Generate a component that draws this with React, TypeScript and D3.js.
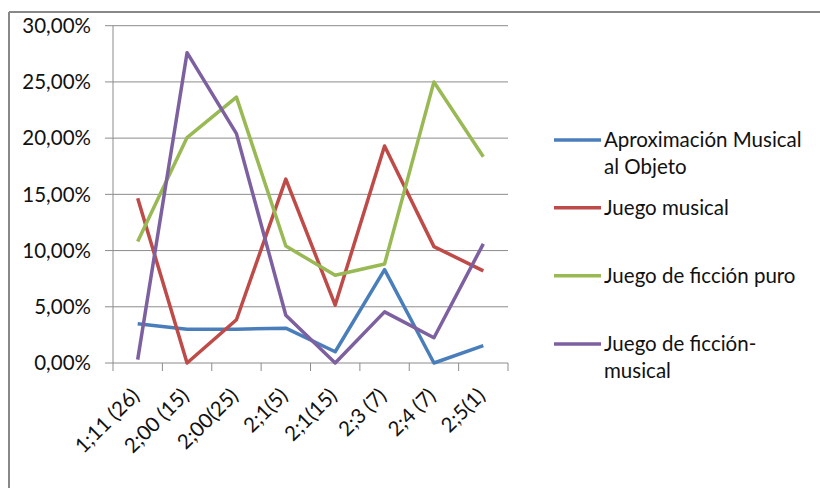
import React from "react";
import * as d3 from "d3";

// Age groups (age;months with sample size) on the x axis
const categories = ["1;11 (26)", "2;00 (15)", "2;00(25)", "2;1(5)", "2;1(15)", "2;3 (7)", "2;4 (7)", "2;5(1)"];

// Share of each play type per age group, in percent
const aproximacionMusical = [3.5, 3.0, 3.0, 3.1, 1.0, 8.3, 0.0, 1.55];
const juegoMusical = [14.65, 0.0, 3.85, 16.35, 5.15, 19.3, 10.35, 8.2];
const juegoFiccionPuro = [10.8, 20.05, 23.65, 10.4, 7.8, 8.8, 25.0, 18.35];
const juegoFiccionMusical = [0.3, 27.6, 20.4, 4.25, 0.0, 4.55, 2.25, 10.6];

const seriesNames = ["Aproximación Musical al Objeto", "Juego musical", "Juego de ficción puro", "Juego de ficción-musical"];
const legendLines = [["Aproximación Musical", "al Objeto"], ["Juego musical"], ["Juego de ficción puro"], ["Juego de ficción-", "musical"]];
const seriesColors = ["#4A7EBB", "#BE4B48", "#98B954", "#7D60A0"];
const yTicks = [0, 5, 10, 15, 20, 25, 30];

const W = 820;
const H = 488;
const FONT = "Lato, 'Open Sans', sans-serif";

export default function App() {
  const plot = { left: 113, right: 508, top: 25.7, bottom: 363 };
  const x = d3.scaleBand<string>().domain(categories).range([plot.left, plot.right]);
  const y = d3.scaleLinear().domain([0, 30]).range([plot.bottom, plot.top]);
  const allSeries = [aproximacionMusical, juegoMusical, juegoFiccionPuro, juegoFiccionMusical];
  const line = d3
    .line<number>()
    .x((_, i) => (x(categories[i]) as number) + x.bandwidth() / 2)
    .y((v) => y(v));
  const fmt = (v: number) => v.toFixed(2).replace(".", ",") + "%";
  const boundaries = d3.range(categories.length + 1).map((i) => plot.left + i * x.step());
  const legendRowY = [140, 207.7, 275.7, 344];

  return (
    <svg
      width={W}
      height={H}
      style={{ position: "absolute", left: 0, top: 0, background: "#fff" }}
      fontFamily={FONT}
    >
      <rect x={0} y={0} width={W} height={H} fill="#fff" />
      {/* chart frame (top and left edges) */}
      <line x1={9} y1={12} x2={W} y2={12} stroke="#888" strokeWidth={2} />
      <line x1={9} y1={12} x2={9} y2={H} stroke="#888" strokeWidth={2} />

      {/* horizontal gridlines and y labels */}
      {yTicks.map((t) => (
        <g key={t}>
          <line x1={plot.left - 8} x2={plot.right} y1={y(t)} y2={y(t)} stroke="#8c8c8c" strokeWidth={1} />
          <text x={91} y={y(t)} dy="0.35em" textAnchor="end" fontSize={20.5} fill="#111">
            {fmt(t)}
          </text>
        </g>
      ))}
      <line x1={plot.left} x2={plot.left} y1={plot.top} y2={plot.bottom} stroke="#8c8c8c" strokeWidth={1} />

      {/* x tick marks and rotated labels */}
      {boundaries.map((bx, i) => (
        <line key={i} x1={bx} x2={bx} y1={plot.bottom} y2={plot.bottom + 8} stroke="#8c8c8c" strokeWidth={1} />
      ))}
      {categories.map((c) => {
        const cx = (x(c) as number) + x.bandwidth() / 2;
        return (
          <text
            key={c}
            transform={`translate(${cx + 3},${plot.bottom + 34}) rotate(-45)`}
            textAnchor="end"
            fontSize={20.5}
            fill="#111"
          >
            {c}
          </text>
        );
      })}

      {/* series lines */}
      {allSeries.map((s, i) => (
        <path
          key={seriesNames[i]}
          d={line(s) as string}
          fill="none"
          stroke={seriesColors[i]}
          strokeWidth={3.5}
          strokeLinejoin="round"
        />
      ))}

      {/* legend */}
      {seriesNames.map((name, i) => (
        <g key={name}>
          <line x1={554} x2={601} y1={legendRowY[i]} y2={legendRowY[i]} stroke={seriesColors[i]} strokeWidth={3.5} />
          <text x={604} y={legendRowY[i]} fontSize={20.5} fill="#111">
            {legendLines[i].map((ln, j) => (
              <tspan key={j} x={604} dy={j === 0 ? "0.35em" : 26.7}>
                {ln}
              </tspan>
            ))}
          </text>
        </g>
      ))}
    </svg>
  );
}
